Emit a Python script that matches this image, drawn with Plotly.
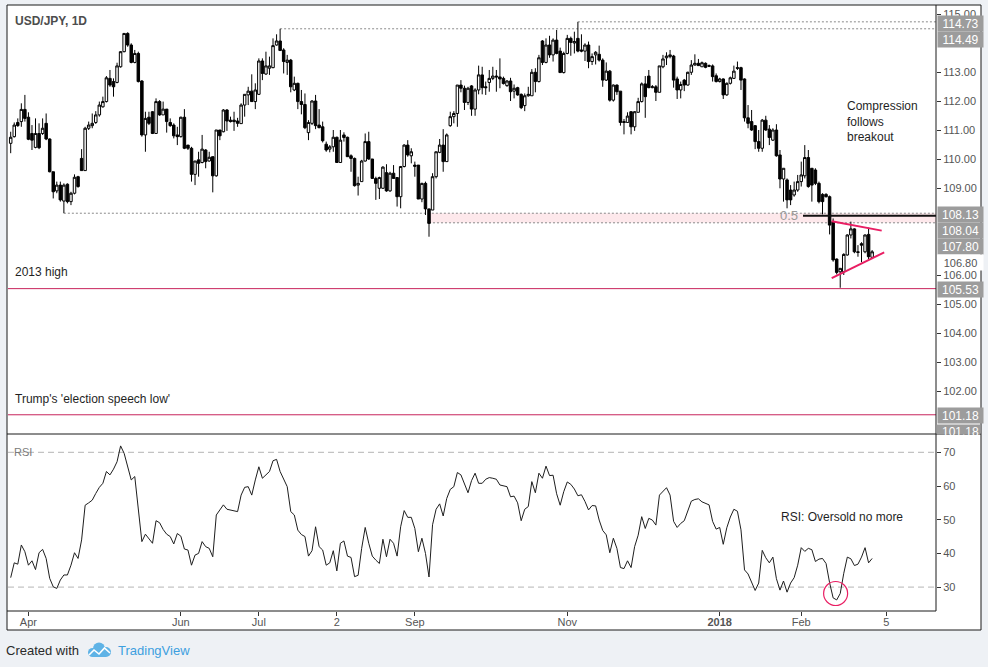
import numpy as np
import plotly.graph_objects as go

# ---------------- data (USD/JPY daily) ----------------
opens = [
    110.54, 110.77, 111.26, 111.29, 111.71, 111.44, 110.88, 110.40, 110.88, 110.88,
    111.23, 110.69, 109.56, 108.90, 109.10, 108.55, 109.13, 108.53, 108.82, 109.39,
    110.02, 109.60, 111.06, 111.15, 111.26, 111.52, 111.80, 111.98, 112.78, 112.67,
    112.64, 113.18, 113.70, 114.33, 113.93, 113.33, 113.64, 112.69, 110.83, 111.44,
    111.63, 110.88, 111.98, 111.52, 111.72, 111.26, 111.17, 110.83, 110.77, 111.44,
    110.48, 110.37, 109.47, 109.97, 109.88, 110.31, 109.93, 110.08, 109.42, 111.00,
    110.94, 111.69, 111.34, 111.34, 111.31, 111.22, 111.86, 112.21, 112.34, 111.98,
    112.23, 113.38, 112.93, 113.13, 113.15, 113.93, 114.07, 113.76, 113.33, 113.41,
    112.38, 112.61, 111.98, 111.88, 110.91, 111.23, 112.00, 111.17, 111.11, 110.51,
    110.34, 110.42, 110.75, 109.88, 110.83, 110.75, 110.11, 110.02, 109.10, 109.22,
    109.93, 110.60, 110.00, 109.33, 108.99, 108.99, 109.53, 108.90, 109.51, 109.36,
    108.70, 109.74, 110.48, 110.11, 109.79, 109.79, 108.62, 109.16, 108.28, 108.24,
    109.39, 110.23, 110.48, 109.91, 111.15, 111.46, 111.57, 112.55, 112.44, 111.95,
    112.52, 111.72, 112.38, 112.90, 112.49, 112.64, 112.78, 112.86, 112.83, 112.78,
    112.53, 112.69, 112.34, 112.46, 112.23, 111.84, 112.18, 112.18, 112.99, 112.67,
    114.07, 113.33, 113.93, 113.59, 114.10, 113.72, 112.98, 113.64, 114.16, 114.00,
    114.16, 113.76, 113.72, 113.93, 113.36, 113.59, 113.61, 113.41, 112.72, 113.03,
    112.03, 112.55, 112.34, 111.29, 111.26, 111.63, 111.11, 111.61, 111.98, 112.59,
    112.86, 112.46, 112.49, 112.30, 113.18, 113.49, 113.53, 113.55, 112.76, 112.38,
    112.72, 112.55, 112.99, 113.24, 113.30, 113.18, 113.30, 113.22, 113.21, 112.87,
    112.67, 112.76, 112.21, 112.61, 112.78, 113.15, 113.15, 112.76, 111.42, 111.29,
    111.15, 110.60, 110.37, 111.34, 111.03, 110.65, 111.00, 110.14, 109.31, 109.28,
    108.93, 108.76, 108.93, 109.22, 109.42, 110.05, 109.68, 109.62, 109.16, 108.78,
    108.78, 108.70, 107.84, 106.55, 106.11, 106.11, 106.69, 107.38, 107.59, 106.80,
    107.08, 106.80, 107.40, 106.61,
]
highs = [
    110.94, 111.26, 111.40, 111.92, 112.21, 111.61, 111.17, 111.40, 111.23, 111.40,
    111.57, 110.71, 109.56, 109.22, 109.22, 109.16, 109.16, 108.87, 109.47, 109.42,
    110.34, 111.11, 111.29, 111.57, 111.65, 111.98, 112.15, 112.86, 113.07, 112.78,
    113.32, 113.72, 114.33, 114.37, 113.99, 113.76, 113.70, 112.72, 111.63, 111.63,
    111.65, 112.09, 112.03, 111.98, 111.72, 111.40, 111.23, 111.11, 111.46, 111.72,
    110.48, 110.42, 109.93, 110.25, 110.83, 110.34, 110.25, 110.08, 111.00, 111.00,
    111.72, 111.72, 111.46, 111.63, 111.42, 111.92, 112.23, 112.49, 112.92, 112.61,
    113.47, 113.47, 113.70, 113.53, 114.16, 114.30, 114.49, 113.82, 113.59, 113.45,
    112.84, 112.63, 112.38, 112.26, 111.34, 112.03, 112.21, 111.72, 111.29, 110.60,
    110.48, 111.00, 110.77, 111.00, 110.92, 110.77, 110.16, 110.05, 109.39, 109.97,
    110.88, 110.94, 110.00, 109.39, 109.39, 109.75, 109.82, 109.56, 109.79, 109.36,
    109.76, 110.51, 110.65, 110.37, 109.91, 109.79, 109.18, 109.22, 108.28, 109.51,
    110.25, 110.69, 111.03, 110.88, 111.63, 111.65, 112.55, 112.72, 112.53, 112.49,
    112.55, 112.44, 113.22, 113.18, 112.67, 113.07, 113.18, 113.07, 113.47, 112.84,
    112.72, 112.80, 112.57, 112.49, 112.26, 112.26, 112.49, 113.10, 113.13, 113.59,
    114.10, 114.16, 114.25, 114.16, 114.45, 113.84, 113.70, 114.28, 114.22, 114.39,
    114.73, 114.30, 113.99, 114.05, 113.64, 113.72, 113.91, 113.47, 113.33, 113.07,
    112.57, 112.57, 112.34, 111.38, 111.61, 111.65, 111.65, 112.11, 112.64, 112.86,
    113.07, 112.55, 112.55, 113.21, 113.59, 113.68, 113.76, 113.59, 112.84, 112.67,
    112.76, 113.01, 113.41, 113.61, 113.45, 113.36, 113.33, 113.26, 113.26, 112.95,
    112.80, 112.78, 112.64, 112.84, 113.22, 113.36, 113.18, 112.78, 111.86, 111.69,
    111.17, 111.00, 111.38, 111.49, 111.17, 111.06, 111.20, 110.31, 109.68, 109.33,
    109.10, 109.22, 109.45, 109.91, 110.48, 110.31, 109.68, 109.68, 109.22, 108.82,
    108.82, 108.74, 107.95, 106.57, 106.23, 106.75, 107.40, 107.84, 107.61, 107.03,
    107.13, 107.40, 107.63, 106.86,
]
lows = [
    110.20, 110.74, 111.11, 111.11, 111.29, 110.65, 110.31, 110.37, 110.34, 110.83,
    110.65, 109.54, 108.64, 108.82, 108.53, 108.13, 108.47, 108.41, 108.78, 109.01,
    109.60, 109.60, 111.00, 111.06, 111.21, 111.46, 111.77, 111.95, 112.49, 112.15,
    112.61, 113.15, 113.68, 113.87, 113.30, 113.30, 112.64, 110.77, 110.25, 111.17,
    110.86, 110.88, 111.49, 111.52, 110.91, 111.11, 110.71, 110.48, 110.74, 110.34,
    110.31, 109.22, 109.10, 109.39, 109.85, 109.68, 109.91, 108.85, 109.39, 110.65,
    110.92, 110.97, 111.26, 110.97, 111.11, 111.22, 111.46, 111.86, 111.98, 111.72,
    112.21, 112.72, 112.90, 112.90, 113.13, 113.91, 113.74, 112.95, 112.90, 112.30,
    112.34, 111.72, 111.54, 111.03, 110.65, 111.17, 111.03, 111.06, 110.57, 110.25,
    110.23, 110.25, 109.87, 109.88, 110.60, 110.08, 109.56, 109.05, 108.74, 109.22,
    109.91, 109.97, 109.33, 108.59, 108.62, 108.97, 108.87, 108.87, 109.33, 108.36,
    108.30, 109.71, 110.08, 109.85, 109.39, 108.62, 108.51, 108.07, 107.32, 108.24,
    109.33, 110.20, 109.56, 109.91, 111.11, 111.23, 111.11, 112.30, 111.69, 111.86,
    111.49, 111.49, 112.23, 112.23, 112.21, 112.32, 112.72, 112.32, 112.44, 112.57,
    112.49, 112.00, 112.09, 112.18, 111.72, 111.65, 112.15, 112.18, 112.30, 112.64,
    113.24, 113.30, 113.49, 113.36, 113.61, 112.98, 112.95, 113.61, 113.56, 113.64,
    113.68, 113.68, 113.38, 113.13, 113.24, 113.26, 113.36, 112.49, 112.69, 111.98,
    111.98, 112.21, 111.15, 110.85, 111.26, 110.85, 110.97, 111.61, 111.95, 111.42,
    112.44, 112.44, 112.00, 112.30, 113.13, 113.24, 113.47, 112.46, 112.07, 112.09,
    112.34, 112.53, 112.90, 113.22, 113.22, 113.18, 113.13, 113.17, 112.67, 112.64,
    112.64, 112.07, 112.18, 112.57, 112.76, 113.07, 112.38, 111.29, 111.06, 110.97,
    110.34, 110.25, 110.25, 110.97, 110.48, 110.62, 110.08, 108.99, 108.53, 108.30,
    108.41, 108.70, 108.87, 109.05, 109.33, 109.01, 108.53, 109.10, 108.47, 108.09,
    108.67, 107.40, 106.46, 106.02, 105.56, 106.00, 106.67, 107.26, 106.75, 106.63,
    106.44, 106.75, 106.55, 106.55,
]
closes = [
    110.75, 111.17, 111.15, 111.71, 111.40, 110.68, 110.65, 110.88, 110.39, 111.06,
    110.69, 109.56, 108.87, 109.10, 108.59, 109.10, 108.53, 108.82, 109.37, 109.05,
    109.60, 111.06, 111.17, 111.23, 111.52, 111.86, 111.98, 112.80, 112.55, 112.49,
    113.21, 113.70, 114.33, 113.93, 113.33, 113.64, 112.67, 110.83, 111.40, 111.23,
    110.88, 111.98, 111.52, 111.72, 111.29, 111.15, 110.80, 110.77, 111.44, 110.37,
    110.37, 109.47, 109.93, 109.85, 110.34, 109.91, 110.06, 109.42, 111.00, 110.80,
    111.69, 111.31, 111.29, 111.29, 111.23, 111.86, 112.23, 112.34, 111.98, 112.38,
    113.38, 112.95, 113.21, 113.21, 113.91, 114.07, 113.74, 113.36, 113.41, 112.49,
    112.61, 111.98, 111.88, 111.08, 111.26, 112.00, 111.15, 111.08, 110.63, 110.31,
    110.42, 110.75, 109.88, 110.65, 110.74, 110.08, 110.02, 109.08, 109.16, 109.93,
    110.60, 110.00, 109.33, 109.16, 109.36, 109.72, 108.90, 109.51, 109.33, 108.70,
    109.74, 110.48, 110.14, 110.25, 109.75, 108.62, 109.16, 108.28, 107.78, 109.39,
    110.25, 110.48, 109.91, 110.83, 111.46, 111.57, 112.55, 112.44, 111.95, 112.44,
    111.72, 112.38, 112.90, 112.46, 112.46, 112.78, 112.86, 112.83, 112.76, 112.60,
    112.69, 112.32, 112.44, 112.21, 111.77, 112.18, 112.23, 112.99, 112.67, 113.49,
    113.33, 113.93, 113.59, 114.10, 113.64, 112.98, 113.64, 114.16, 114.02, 114.05,
    113.72, 113.72, 113.93, 113.36, 113.53, 113.68, 113.41, 112.72, 113.03, 112.03,
    112.55, 112.32, 111.26, 111.26, 111.48, 111.11, 111.63, 111.98, 112.59, 112.15,
    112.46, 112.49, 112.30, 113.21, 113.45, 113.55, 113.59, 112.72, 112.38, 112.57,
    112.55, 112.99, 113.24, 113.30, 113.22, 113.32, 113.16, 113.20, 112.84, 112.67,
    112.76, 112.21, 112.61, 112.80, 113.03, 113.13, 112.72, 111.42, 111.23, 111.00,
    110.60, 110.37, 111.34, 111.00, 110.74, 111.00, 110.11, 109.31, 109.68, 108.59,
    108.59, 108.93, 109.22, 109.45, 110.05, 109.05, 109.10, 109.16, 108.53, 108.53,
    108.70, 107.72, 106.52, 106.09, 106.23, 106.71, 107.38, 107.59, 106.80, 106.78,
    107.03, 107.38, 106.63, 106.80,
]
rsi = [
    32.8, 37.2, 36.8, 42.5, 40.5, 36.5, 37.8, 35.2, 40.2, 41.2,
    38.5, 32.6, 30.1, 29.6, 32.1, 33.6, 33.6, 36.5, 40.2, 38.5,
    44.0, 54.3, 55.0, 55.8, 57.8, 59.6, 60.8, 64.3, 63.3, 65.0,
    67.2, 71.9, 69.7, 65.7, 61.8, 62.8, 52.4, 43.5, 45.7, 44.5,
    43.0, 49.7, 49.1, 47.1, 45.7, 45.0, 42.8, 45.9, 45.1, 41.3,
    41.0, 36.5, 39.5, 40.0, 43.5, 42.0, 41.5, 39.0, 51.4, 52.9,
    54.4, 53.1, 52.9, 52.7, 52.4, 57.3, 59.6, 59.8, 57.3, 61.8,
    65.7, 62.3, 63.3, 64.3, 67.5, 67.9, 64.3, 61.8, 59.8, 52.4,
    51.4, 46.9, 45.6, 45.0, 39.2, 40.8, 47.9, 42.0, 41.0, 36.5,
    37.2, 40.8, 34.8, 43.0, 43.7, 39.2, 38.8, 33.1, 33.5, 41.5,
    47.7, 43.0, 39.2, 38.0, 37.0, 44.2, 39.0, 44.2, 43.0, 39.2,
    47.9, 52.7, 50.7, 50.7, 47.4, 40.5, 44.5, 40.0, 33.0, 48.5,
    53.1, 54.7, 51.1, 56.3, 59.0, 59.8, 64.0, 63.3, 60.8, 58.0,
    61.6, 63.8, 60.8, 60.8, 62.0, 62.5, 62.3, 62.0, 60.3, 60.0,
    59.8, 56.8, 57.0, 55.0, 49.7, 53.1, 53.9, 61.3, 58.0, 63.8,
    62.3, 65.9, 63.1, 63.2, 57.7, 54.3, 58.3, 61.2, 60.5, 59.1,
    57.1, 57.4, 55.4, 52.9, 54.2, 54.1, 49.9, 46.8, 45.5, 40.2,
    44.5, 41.5, 35.8, 35.5, 37.8, 35.8, 42.0, 45.4, 50.9, 47.4,
    50.4, 49.9, 48.4, 57.3, 58.3, 59.5, 57.3, 49.5, 47.7, 48.9,
    49.7, 52.6, 55.5, 56.0, 56.2, 55.3, 54.9, 54.4, 49.5, 47.2,
    47.7, 42.7, 47.6, 50.8, 53.1, 52.5, 47.0, 35.1, 33.9, 31.4,
    29.0, 31.2, 40.9, 38.7, 37.2, 38.9, 32.5, 29.1, 31.8, 28.5,
    31.2, 32.8, 36.5, 41.7, 40.6, 41.5, 41.1, 37.6, 38.3, 38.5,
    37.0, 31.3, 26.8, 26.2, 28.1, 34.1, 38.9, 38.4, 36.4, 36.8,
    38.9, 41.7, 37.2, 38.5,
]

# x-axis labels (bar positions of the first trading day shown)
time_tick_bars = [5, 48, 70, 92, 114, 157, 200, 223, 247]
time_tick_text = ["Apr", "Jun", "Jul", "2", "Sep", "Nov", "<b>2018</b>", "Feb", "5"]
# price ticks that are not hidden behind the value boxes
price_ticks = [102, 103, 104, 105, 106, 109, 110, 111, 112, 113, 115]
rsi_ticks = [30, 40, 50, 60, 70]

# drawn levels / studies
level_high_nov = 114.73
level_high_jul = 114.49
level_2017_low = 108.13
fib_level = 108.04
band_low = 107.80
level_2013_high = 105.53
level_trump_low = 101.18
fib_start_bar = 223.5
triangle_upper = ([231.6, 245.7], [107.85, 107.53])
triangle_lower = ([231.6, 246.4], [105.89, 106.78])
oversold_circle = (232.7, 28.1)

# axis price labels (value, style)
axis_labels = [(114.73, "box"), (114.49, "box"), (108.13, "box"), (108.04, "box"),
               (107.80, "box"), (106.80, "plain"), (105.53, "box"),
               (101.18, "box"), (101.18, "box")]

# ---------------- geometry ----------------
W, H = 988, 667
FONT = "Liberation Sans, Arial, sans-serif"
PLOT_L, PLOT_R = 8, 936
MAIN_T, MAIN_B = 5, 434
RSI_T, RSI_B = 434, 611
FR_L, FR_T, FR_R, FR_B = 7, 5, 981, 630
BAR0_PX, BAR_PX = 10.7, 3.545
P_REF, P_REF_PX, P_PX = 115.0, 14.0, 29.0
R_REF, R_REF_PX, R_PX = 70.0, 452.3, 3.37


def fx(px):
    return px / W


def fy(py):
    return 1 - py / H


def price_px(p):
    return P_REF_PX + (P_REF - p) * P_PX


XR = [(PLOT_L - BAR0_PX) / BAR_PX, (PLOT_R - BAR0_PX) / BAR_PX]
YR = [P_REF - (MAIN_B - P_REF_PX) / P_PX, P_REF + (P_REF_PX - MAIN_T) / P_PX]
Y2R = [R_REF - (RSI_B - R_REF_PX) / R_PX, R_REF + (R_REF_PX - RSI_T) / R_PX]

n = len(closes)
idx = np.arange(n)
highs_a = np.array(highs)
lows_a = np.array(lows)

# pivot bars from the data
bar_nov_high = int(np.argmax(highs_a))
bar_jul_high = 50 + int(np.argmax(highs_a[50:110]))
bar_apr_low = int(np.argmin(lows_a[:50]))
bar_sep_low = 100 + int(np.argmin(lows_a[100:150]))

fig = go.Figure()
fig.add_trace(go.Candlestick(
    x=idx, open=opens, high=highs, low=lows, close=closes,
    xaxis="x", yaxis="y", whiskerwidth=0,
    increasing=dict(fillcolor="#ffffff", line=dict(color="#000000", width=1)),
    decreasing=dict(fillcolor="#000000", line=dict(color="#000000", width=1)),
    hoverinfo="skip", showlegend=False,
))
fig.add_trace(go.Scatter(
    x=idx, y=rsi, xaxis="x2", yaxis="y2", mode="lines",
    line=dict(color="#1e1e1e", width=1), hoverinfo="skip", showlegend=False,
))

shapes = []
# white chart frame
shapes.append(dict(type="rect", xref="paper", yref="paper", layer="below",
                   x0=fx(FR_L), x1=fx(FR_R), y0=fy(FR_B), y1=fy(FR_T),
                   fillcolor="white", line=dict(width=0)))

DOT = dict(color="#8a8a8a", width=1, dash="2px,2px")
# pink band + dotted levels
shapes.append(dict(type="rect", xref="x", yref="y", layer="below",
                   x0=bar_sep_low, x1=XR[1], y0=band_low, y1=level_2017_low,
                   fillcolor="rgba(245,150,165,0.22)", line=dict(width=0)))
for b, lv in [(bar_nov_high, level_high_nov), (bar_jul_high, level_high_jul),
              (bar_apr_low, level_2017_low), (bar_sep_low, band_low)]:
    shapes.append(dict(type="line", xref="x", yref="y", layer="below",
                       x0=b, x1=XR[1], y0=lv, y1=lv, line=DOT))
# crimson horizontal levels
for lv in [level_2013_high, level_trump_low]:
    shapes.append(dict(type="line", xref="x", yref="y", layer="below",
                       x0=XR[0], x1=XR[1], y0=lv, y1=lv,
                       line=dict(color="#c8245c", width=1)))
# fib 0.5 line
shapes.append(dict(type="line", xref="x", yref="y", layer="above",
                   x0=fib_start_bar, x1=XR[1], y0=fib_level, y1=fib_level,
                   line=dict(color="#111111", width=2)))
# triangle
for xs, ys in [triangle_upper, triangle_lower]:
    shapes.append(dict(type="line", xref="x", yref="y", layer="above",
                       x0=xs[0], x1=xs[1], y0=ys[0], y1=ys[1],
                       line=dict(color="#e91e63", width=2)))
# RSI dashed bands
for lv in [70, 30]:
    shapes.append(dict(type="line", xref="x2", yref="y2", layer="below",
                       x0=XR[0], x1=XR[1], y0=lv, y1=lv,
                       line=dict(color="#b5b5b5", width=1, dash="6px,4px")))
# oversold circle (12 px radius)
cx, cy = oversold_circle
rx, ry = 12 / BAR_PX, 12 / R_PX
shapes.append(dict(type="circle", xref="x2", yref="y2", layer="above",
                   x0=cx - rx, x1=cx + rx, y0=cy - ry, y1=cy + ry,
                   line=dict(color="#e91e63", width=1.2)))

# frame / separator lines
LINE = dict(color="#1a1a1a", width=1)
for (x0, y0, x1, y1) in [(FR_L, FR_T, FR_R, FR_T), (FR_L, FR_B, FR_R, FR_B),
                         (FR_L, FR_T, FR_L, FR_B), (FR_R, FR_T, FR_R, FR_B),
                         (FR_L, MAIN_B, FR_R, MAIN_B), (FR_L, RSI_B, PLOT_R, RSI_B),
                         (PLOT_R, FR_T, PLOT_R, RSI_B)]:
    shapes.append(dict(type="line", xref="paper", yref="paper", layer="above",
                       x0=fx(x0), x1=fx(x1), y0=fy(y0), y1=fy(y1), line=LINE))

annotations = []


def text(x, y, s, size=12, color="#1f1f1f", **kw):
    annotations.append(dict(xref="paper", yref="paper", x=fx(x), y=fy(y),
                            text=s, showarrow=False, xanchor=kw.pop("xanchor", "left"),
                            yanchor="middle", font=dict(family=FONT, size=size, color=color),
                            **kw))


# axis value labels (stacked so they don't overlap)
prev = -1e9
BOX_C = "#9c9c9c"
for val, style in axis_labels:
    y = max(price_px(val) + 1.2, prev + 16)
    prev = y
    label = f"{val:.2f}"
    if style == "plain":
        annotations.append(dict(xref="paper", yref="paper", x=fx(PLOT_R + 1), y=fy(y),
                                xanchor="left", yanchor="middle", showarrow=False,
                                text=label, width=43, height=13, bgcolor="white",
                                font=dict(family=FONT, size=11, color="#555555")))
    elif y + 7.5 > MAIN_B:
        # box clipped by the pane border
        shapes.append(dict(type="rect", xref="paper", yref="paper", layer="above",
                           x0=fx(PLOT_R + 0.5), x1=fx(FR_R - 0.5), y0=fy(MAIN_B),
                           y1=fy(y - 7.5), fillcolor=BOX_C, line=dict(width=0)))
        annotations.append(dict(xref="paper", yref="paper", x=fx(PLOT_R + 1), y=fy(y),
                                xanchor="left", yanchor="middle", showarrow=False,
                                text=label, width=43, height=13,
                                font=dict(family=FONT, size=12, color="white")))
    else:
        annotations.append(dict(xref="paper", yref="paper", x=fx(PLOT_R + 0.5), y=fy(y),
                                xanchor="left", yanchor="middle", showarrow=False,
                                text=label, width=43, height=13, bgcolor=BOX_C,
                                font=dict(family=FONT, size=12, color="white")))

text(13, 21, "<b>USD/JPY, 1D</b>", size=12, color="#4d4d4d")
text(13, 271.5, "2013 high")
text(13, 398.5, "Trump's 'election speech low'")
text(845, 121.5, "Compression<br>follows<br>breakout", align="left")
text(779, 516.5, "RSI: Oversold no more")
text(12, 452, "RSI", size=11, color="#7a7a7a")
text(4, 650, "Created with", size=13, color="#2a2a2a")
text(116, 650, "TradingView", size=13, color="#3d9fdf")
annotations.append(dict(xref="x", yref="y", x=fib_start_bar, y=fib_level, xshift=-3,
                        text="0.5", showarrow=False, xanchor="right", yanchor="middle",
                        font=dict(family=FONT, size=13, color="#9a9a9a")))

# TradingView cloud logo
LOGO = "#5fb3e6"
for (x0, y0, x1, y1) in [(88, 648, 97, 657), (93, 642.5, 105, 654.5), (101, 647, 111, 657)]:
    shapes.append(dict(type="circle", xref="paper", yref="paper", layer="above",
                       x0=fx(x0), x1=fx(x1), y0=fy(y1), y1=fy(y0),
                       fillcolor=LOGO, line=dict(width=0)))
shapes.append(dict(type="rect", xref="paper", yref="paper", layer="above",
                   x0=fx(92.5), x1=fx(106), y0=fy(657), y1=fy(651),
                   fillcolor=LOGO, line=dict(width=0)))
pts = [(89, 655), (94, 650), (99, 654), (104.5, 648), (110, 653)]
path = "M " + " L ".join(f"{fx(a):.5f},{fy(b):.5f}" for a, b in pts)
shapes.append(dict(type="path", xref="paper", yref="paper", layer="above",
                   path=path, line=dict(color="white", width=1.6)))

AX_FONT = dict(family=FONT, size=11, color="#555555")
fig.update_layout(
    width=W, height=H, margin=dict(l=0, r=0, t=0, b=0),
    paper_bgcolor="#eef1f5", plot_bgcolor="rgba(0,0,0,0)",
    showlegend=False, hovermode=False, boxgap=0.3, boxgroupgap=0,
    xaxis=dict(domain=[fx(PLOT_L), fx(PLOT_R)], range=XR, anchor="y",
               showgrid=False, zeroline=False, showticklabels=False, ticks="",
               showline=False, rangeslider=dict(visible=False), fixedrange=True),
    yaxis=dict(domain=[fy(MAIN_B), fy(MAIN_T)], range=YR, anchor="x", side="right",
               tickvals=price_ticks, ticktext=[f"{v:.2f}" for v in price_ticks],
               ticks="outside", ticklen=4, tickcolor="#333333", tickfont=AX_FONT,
               showgrid=False, zeroline=False, showline=False, fixedrange=True),
    xaxis2=dict(domain=[fx(PLOT_L), fx(PLOT_R)], range=XR, anchor="y2",
                tickvals=time_tick_bars, ticktext=time_tick_text,
                ticks="outside", ticklen=4, tickcolor="#333333", tickfont=AX_FONT,
                ticklabelstandoff=-3,
                showgrid=False, zeroline=False, showline=False, fixedrange=True),
    yaxis2=dict(domain=[fy(RSI_B), fy(RSI_T)], range=Y2R, anchor="x2", side="right",
                tickvals=rsi_ticks, ticktext=[str(v) for v in rsi_ticks],
                ticks="outside", ticklen=4, tickcolor="#333333", tickfont=AX_FONT,
                showgrid=False, zeroline=False, showline=False, fixedrange=True),
    shapes=shapes, annotations=annotations,
)

fig.write_html("out.html", config=dict(displayModeBar=False),
               post_script="document.body.style.margin='0px';document.body.style.padding='0px';")
